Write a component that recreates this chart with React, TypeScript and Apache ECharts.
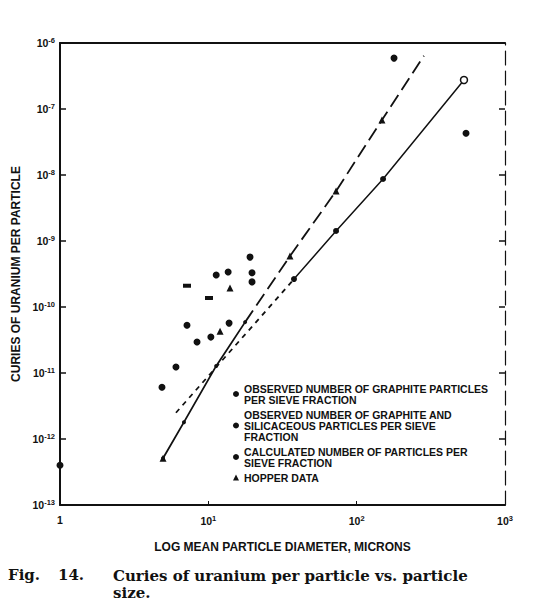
import React, { useEffect, useRef } from "react";
import * as echarts from "echarts";

// ---- tick labels ----
const xTickValues = [1, 10, 100, 1000];
const xTickExponents = ["", "1", "2", "3"];
const yMinExp = -13;
const yMaxExp = -6;

// ---- legend names ----
const L1 = "OBSERVED NUMBER OF GRAPHITE PARTICLES\nPER SIEVE FRACTION";
const L2 = "OBSERVED NUMBER OF GRAPHITE AND\nSILICACEOUS PARTICLES PER SIEVE\nFRACTION";
const L3 = "CALCULATED NUMBER OF PARTICLES PER\nSIEVE FRACTION";
const L4 = "HOPPER DATA";

// ---- data: [diameter (microns), curies per particle] ----
const observedGraphite = [
  [1, 4.0e-13], [4.87, 6.1e-12], [6.05, 1.23e-11], [7.18, 5.3e-11],
  [8.39, 2.95e-11], [10.4, 3.5e-11], [13.8, 5.7e-11],
];
const observedSiliceous = [
  [11.3, 3.05e-10], [13.6, 3.4e-10], [19.1, 5.7e-10], [19.7, 3.3e-10],
  [19.7, 2.4e-10], [178.6, 5.9e-7], [546, 4.3e-8],
];
const oddMarks = [[10.1, 1.37e-10], [7.18, 2.1e-10]];
const hopperData = [
  [4.95, 5.1e-13], [12.0, 4.3e-11], [14.0, 1.94e-10], [35.5, 5.9e-10],
  [72.6, 5.7e-9], [148, 6.8e-8],
];
const steepSolid = [[4.95, 5.1e-13], [6.85, 1.8e-12], [11.3, 1.28e-11], [17.7, 5.9e-11]];
const steepDashed = [[17.7, 5.9e-11], [35.5, 5.9e-10], [72.6, 5.7e-9], [148, 6.8e-8], [284, 6.4e-7]];
const calcDashed = [[6.05, 2.5e-12], [37.8, 2.65e-10]];
const calcSolid = [[37.8, 2.65e-10], [72.6, 1.42e-9], [150.6, 8.7e-9], [529, 2.75e-7]];
const calcEnd = [[529, 2.75e-7]];

const INK = "#111";

export default function App() {
  const ref = useRef<HTMLDivElement>(null);
  useEffect(() => {
    const chart = echarts.init(ref.current!, null, { renderer: "svg" });
    const bold = { fontFamily: "Liberation Sans, Arial, sans-serif", fontWeight: "bold" as const, color: INK };
    const xFmt = (v: number) => {
      const i = xTickValues.findIndex((t) => Math.abs(Math.log10(t) - Math.log10(v)) < 1e-6);
      if (i < 0) return "";
      return i === 0 ? "{b|1}" : `{b|10}{s|${xTickExponents[i]}}`;
    };
    const yFmt = (v: number) => {
      const e = Math.round(Math.log10(v));
      if (e < yMinExp || e > yMaxExp) return "";
      return `{b|10}{s|${e}}`;
    };
    const rich = {
      b: { ...bold, fontSize: 10.5 },
      s: { ...bold, fontSize: 7.5, verticalAlign: "top" as const, padding: [0, 0, 6, 0] },
    };
    const dot = { color: INK, opacity: 1 };
    const captionFont = "bold 15px 'DejaVu Serif', serif";
    chart.setOption({
      animation: false,
      backgroundColor: "#fff",
      grid: { left: 60, right: 40, top: 43, bottom: 95 },
      xAxis: [
        {
          type: "log", logBase: 10, min: 1, max: 1000,
          name: "LOG MEAN PARTICLE DIAMETER, MICRONS",
          nameLocation: "middle", nameGap: 36,
          nameTextStyle: { ...bold, fontSize: 12 },
          axisLine: { lineStyle: { color: INK, width: 2 } },
          axisTick: { show: true, inside: true, length: 4, lineStyle: { color: INK } },
          minorTick: { show: false },
          splitLine: { show: false },
          axisLabel: { formatter: xFmt, margin: 9, rich },
        },
        {
          type: "log", logBase: 10, min: 1, max: 1000, position: "top",
          axisLine: { lineStyle: { color: INK, width: 2 } },
          axisTick: { show: false }, axisLabel: { show: false }, splitLine: { show: false },
        },
      ],
      yAxis: [
        {
          type: "log", logBase: 10, min: Math.pow(10, yMinExp), max: Math.pow(10, yMaxExp),
          name: "CURIES OF URANIUM PER PARTICLE",
          nameLocation: "middle", nameGap: 25, nameRotate: 90,
          nameTextStyle: { ...bold, fontSize: 12 },
          axisLine: { lineStyle: { color: INK, width: 2 } },
          axisTick: { show: true, inside: true, length: 6, lineStyle: { color: INK, width: 1.5 } },
          splitLine: { show: false },
          axisLabel: { formatter: yFmt, margin: 5, rich },
        },
        {
          type: "log", logBase: 10, min: Math.pow(10, yMinExp), max: Math.pow(10, yMaxExp), position: "right",
          axisLine: { lineStyle: { color: INK, width: 1.2, type: [14, 6] } },
          axisTick: { show: true, inside: true, length: 6, lineStyle: { color: INK, width: 1.5 } },
          axisLabel: { show: false }, splitLine: { show: false },
        },
      ],
      legend: {
        orient: "vertical", left: 228, top: 378, itemWidth: 6, itemHeight: 6, itemGap: 4,
        itemStyle: { opacity: 1 },
        textStyle: { ...bold, fontSize: 10.5, lineHeight: 11 },
        data: [
          { name: L1, icon: "circle" },
          { name: L2, icon: "circle" },
          { name: L3, icon: "circle" },
          { name: L4, icon: "triangle" },
        ],
      },
      series: [
        {
          name: "steepSolid", type: "line", data: steepSolid, symbol: "circle", symbolSize: 4,
          itemStyle: dot, lineStyle: { color: INK, width: 1.8 },
        },
        {
          name: "steepDashed", type: "line", data: steepDashed, showSymbol: false,
          lineStyle: { color: INK, width: 1.8, type: [14, 6] },
        },
        {
          name: "calcDashed", type: "line", data: calcDashed, showSymbol: false,
          lineStyle: { color: INK, width: 1.8, type: [5, 5] },
        },
        {
          name: L3, type: "line", data: calcSolid, symbol: "circle", symbolSize: 6,
          itemStyle: dot, lineStyle: { color: INK, width: 1.5 },
        },
        {
          name: "calcEnd", type: "scatter", data: calcEnd, z: 10,
          symbol: "circle", symbolSize: 7, itemStyle: { color: "#fff", opacity: 1, borderColor: INK, borderWidth: 1.5 },
        },
        { name: L1, type: "scatter", data: observedGraphite, symbol: "circle", symbolSize: 7, itemStyle: dot },
        { name: L2, type: "scatter", data: observedSiliceous, symbol: "circle", symbolSize: 7, itemStyle: dot },
        { name: "odd", type: "scatter", data: oddMarks, symbol: "rect", symbolSize: [8, 4], itemStyle: dot },
        { name: L4, type: "scatter", data: hopperData, symbol: "triangle", symbolSize: 7, itemStyle: dot },
      ],
      graphic: [
        {
          type: "text", left: 8, top: 567,
          style: { text: "Fig.", font: captionFont, fill: INK },
        },
        {
          type: "text", left: 58, top: 567,
          style: { text: "14.", font: captionFont, fill: INK },
        },
        {
          type: "text", left: 113, top: 567,
          style: {
            text: "Curies of uranium per particle vs. particle\nsize.",
            font: captionFont, lineHeight: 17, fill: INK,
          },
        },
      ],
    });
    return () => chart.dispose();
  }, []);
  return <div ref={ref} style={{ position: "fixed", left: 0, top: 0, width: 545, height: 600 }} />;
}
